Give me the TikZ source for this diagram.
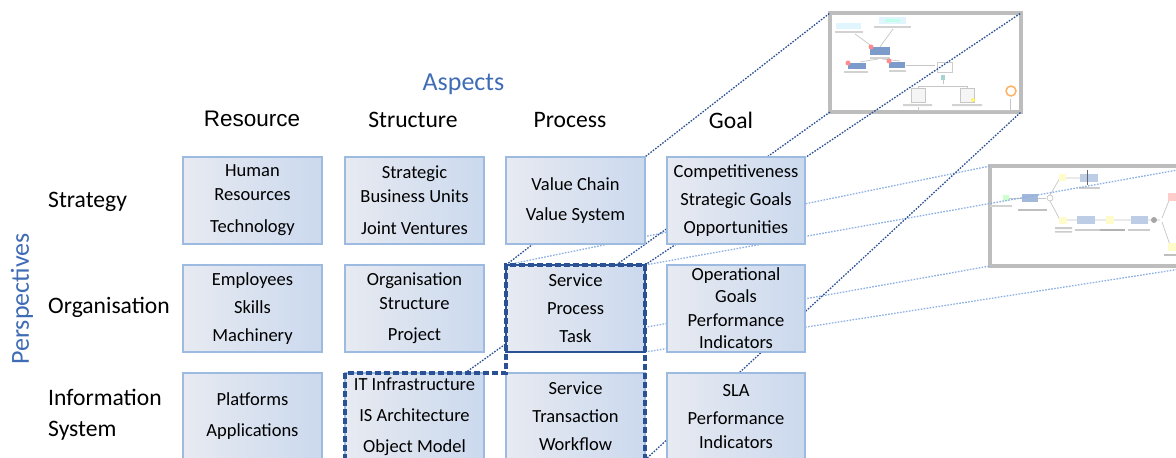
\documentclass[tikz,border=0pt]{standalone}
\usepackage{tikz}
\usepackage{fontspec}
\setmainfont{Carlito}
\newfontfamily\arialfont{Liberation Sans}
\definecolor{boxL}{HTML}{E7EAF1}
\definecolor{boxR}{HTML}{CBD9EE}
\definecolor{boxB}{HTML}{9DBBE0}
\definecolor{dkblue}{HTML}{2A5193}
\definecolor{ltblue}{HTML}{8DB1E2}
\definecolor{ttl}{HTML}{3F6CB5}
\definecolor{frameg}{HTML}{BDBDBD}
\definecolor{compblue}{HTML}{7C9BCB}
\pgfdeclarelayer{back}
\pgfdeclarelayer{mid}
\pgfsetlayers{back,mid,main}
\begin{document}
\begin{tikzpicture}[x=1pt,y=-1pt,
  cell/.style={draw=boxB, line width=1.3pt, left color=boxL, right color=boxR,
    minimum width=139pt, minimum height=87pt, inner sep=0pt, outer sep=0pt,
    align=center, font=\fontsize{18.5}{24}\selectfont},
  hdr/.style={font=\fontsize{23.6}{31}\selectfont, inner sep=0pt},
  darkdot/.style={dkblue, line width=1.3pt, dash pattern=on 1.6pt off 1.4pt},
  lightdot/.style={ltblue, line width=1.3pt, dash pattern=on 1.6pt off 1.4pt},
  selline/.style={dkblue, line width=3.5pt, dash pattern=on 6pt off 3pt},
  picframe/.style={draw=frameg, line width=4pt, fill=white, inner sep=0pt, outer sep=0pt, anchor=north west},
  faint/.style={gray!45, line width=0.7pt}]
\useasboundingbox (0,0) rectangle (1176,458);
\clip (0,0) rectangle (1176,458);

% ---------- titles
\node[hdr, text=ttl, font=\fontsize{26}{30}\selectfont] (aspects) at (463.5,84) {Aspects};
\node[hdr, text=ttl, font=\fontsize{26}{30}\selectfont, rotate=90] (persp) at (22,299) {Perspectives};
\node[hdr, font=\arialfont\fontsize{22.5}{28}\selectfont] (hres) at (252,119) {Resource};
\node[hdr] (hstr) at (413,120) {Structure};
\node[hdr] (hpro) at (570,120) {Process};
\node[hdr] (hgoa) at (731,120) {Goal};
\node[hdr, anchor=west] (rstr) at (48,202) {Strategy};
\node[hdr, anchor=west] (rorg) at (48,307) {Organisation};
\node[hdr, anchor=west, align=left] (ris) at (48,415) {Information\\System};

% ---------- cells
\node[cell] (s1) at (252.5,200.5) {Human\\Resources\\[8pt]Technology};
\node[cell] (s2) at (414.5,200.5) {Strategic\\Business Units\\[8pt]Joint Ventures};
\node[cell] (s3) at (575.5,200.5) {Value Chain\\[6pt]Value System};
\node[cell, minimum width=138pt] (s4) at (736,200.5) {Competitiveness\\[4pt]Strategic Goals\\[4pt]Opportunities};
\node[cell] (o1) at (252.5,308.5) {Employees\\[4pt]Skills\\[4pt]Machinery};
\node[cell] (o2) at (414.5,308.5) {Organisation\\Structure\\[7pt]Project};
\node[cell, draw=dkblue, line width=2pt] (op) at (575.5,308.5) {Service\\[4pt]Process\\[4pt]Task};
\node[cell, minimum width=138pt] (o4) at (736,308.5) {Operational\\[-2pt]Goals\\Performance\\[-2pt]Indicators};
\node[cell] (i1) at (252.5,416.5) {Platforms\\[7pt]Applications};
\node[cell] (ist) at (414.5,416.5) {IT Infrastructure\\[7pt]IS Architecture\\[7pt]Object Model};
\node[cell] (ip) at (575.5,416.5) {Service\\[4pt]Transaction\\[4pt]Workflow};
\node[cell, minimum width=138pt] (i4) at (736,416.5) {SLA\\[4pt]Performance\\Indicators};

% selection outline
\draw[selline] (ist.south west) -- (ist.north west) -- (ip.north west) -- (op.north west)
  -- (op.north east) -- (ip.south east);

% ---------- screenshots
\begin{pgfonlayer}{back}
\node[picframe, minimum width=191pt, minimum height=99pt] (fa) at (830,13) {};
\node[picframe, minimum width=210pt, minimum height=100pt] (fb) at (990,166) {};
% top screenshot content
\fill[cyan!12] (879,17) rectangle (906,24);
\fill[green!30!cyan!25] (885,19) rectangle (900,21.5);
\fill[gray!35] (874,26) rectangle (911,28);
\fill[cyan!12] (836,23) rectangle (861,29);
\fill[gray!35] (835,31) rectangle (863,33);
\draw[faint] (855,34) -- (873,47) (893,29) -- (880,47);
\fill[compblue] (870,47) rectangle (890,55);
\fill[red!45] (871,47) circle (2.5pt);
\fill[gray!35] (870,57) rectangle (890,59);
\draw[faint] (878,59) -- (860,62) (882,59) -- (900,61);
\fill[compblue] (848,63) rectangle (866,69);
\fill[red!45] (848,63) circle (2.5pt);
\fill[gray!35] (844,71) rectangle (868,73);
\fill[compblue] (889,62) rectangle (905,68);
\fill[red!45] (889,61) circle (2.5pt);
\fill[gray!35] (889,70) rectangle (906,72);
\draw[faint] (906,65) -- (935,65);
\draw[gray!40, line width=0.8pt] (937,62) rectangle (952,72);
\fill[teal!35] (941,75) rectangle (945,80);
\draw[faint] (943,80) -- (943,84) (918,86) -- (967,86) (918,86) -- (918,88) (967,86) -- (967,88);
\draw[gray!45, line width=0.8pt, fill=gray!8] (911,88) rectangle (925,102);
\draw[gray!45, line width=0.8pt, fill=gray!8] (960,88) rectangle (974,102);
\fill[yellow!60] (973,100) circle (2pt);
\fill[gray!35] (903,104) rectangle (932,106) (952,104) rectangle (982,106);
\draw[orange!60, line width=1.5pt] (1011,91) circle (5pt);
\draw[faint] (918,107) -- (918,110) -- (1010,110) -- (1010,99);
% right screenshot content
\draw[faint] (1006,198) -- (1022,198) (1038,198) -- (1046,198);
\draw[faint] (1050,195) -- (1060,178) -- (1080,178) (1050,201) -- (1060,220) -- (1160,220);
\draw[faint] (1162,218) -- (1170,198) (1162,222) -- (1170,245);
\fill[green!20] (1003,195) rectangle (1009,201);
\fill[gray!35] (990,205) rectangle (1012,206.5);
\fill[compblue!70] (1022,194) rectangle (1038,202);
\fill[gray!50] (1018,209) rectangle (1047,211);
\draw[gray!50, line width=0.6pt] (1050,198) circle (3pt);
\fill[yellow!20] (1059,174) rectangle (1066,181);
\fill[compblue!50] (1080,174) rectangle (1098,182);
\fill[black!60] (1087,170) rectangle (1088,185);
\fill[gray!40] (1079,187) rectangle (1100,189);
\fill[yellow!20] (1059,217) rectangle (1067,224);
\fill[gray!40] (1055,227) rectangle (1072,229) (1055,231) rectangle (1072,232.5);
\fill[compblue!50] (1077,216) rectangle (1095,224);
\fill[gray!40] (1075,229) rectangle (1100,231);
\fill[yellow!20] (1106,216) rectangle (1114,224);
\fill[gray!60] (1100,229) rectangle (1125,231);
\fill[compblue!50] (1131,216) rectangle (1148,224);
\fill[gray!40] (1128,229) rectangle (1150,231);
\fill[gray!70] (1154,220) circle (3pt);
\fill[red!20] (1168,193) rectangle (1176,201);
\fill[yellow!20] (1168,243) rectangle (1176,251);
\fill[gray!50] (1164,254) rectangle (1176,256);
\end{pgfonlayer}

% ---------- projection lines
\coordinate (b0) at (465,373);
\begin{pgfonlayer}{mid}
\draw[lightdot] (op.north west) -- (fb.north west);
\draw[lightdot] (op.north east) -- (fb.north east);
\draw[lightdot] (op.south west) -- (fb.south west);
\draw[lightdot] (op.south east) -- (fb.south east);
\draw[darkdot] (op.north west) -- (fa.north west);
\draw[darkdot] (b0) -- (fa.south west);
\draw[darkdot] (op.north east) -- (fa.north east);
\draw[darkdot] (ip.south east) -- (fa.south east);
\end{pgfonlayer}
\end{tikzpicture}
\end{document}
